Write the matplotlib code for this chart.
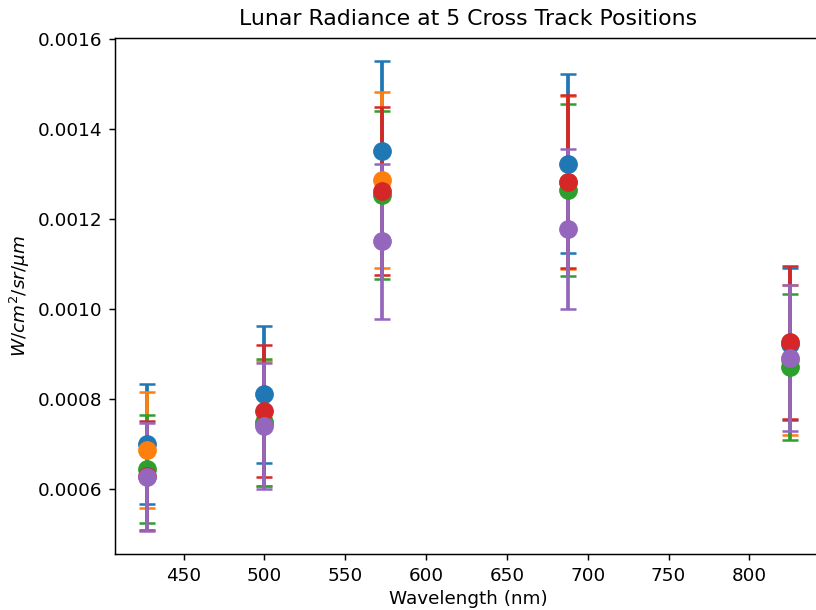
import matplotlib
matplotlib.use("Agg")
import matplotlib.pyplot as plt

wavelengths = [427.5, 500.0, 572.5, 687.5, 825.0]

pos1_mean = [0.000700, 0.000811, 0.001353, 0.001324, 0.000923]
pos2_mean = [0.000687, 0.000746, 0.001287, 0.001282, 0.000887]
pos3_mean = [0.000645, 0.000749, 0.001254, 0.001265, 0.000872]
pos4_mean = [0.000630, 0.000773, 0.001263, 0.001284, 0.000927]
pos5_mean = [0.000628, 0.000740, 0.001151, 0.001179, 0.000892]

pos1_err = [0.000134, 0.000152, 0.000198, 0.000198, 0.000169]
pos2_err = [0.000129, 0.000140, 0.000195, 0.000193, 0.000166]
pos3_err = [0.000121, 0.000141, 0.000187, 0.000191, 0.000163]
pos4_err = [0.000121, 0.000147, 0.000186, 0.000192, 0.000170]
pos5_err = [0.000120, 0.000140, 0.000172, 0.000178, 0.000162]

means = [pos1_mean, pos2_mean, pos3_mean, pos4_mean, pos5_mean]
errs = [pos1_err, pos2_err, pos3_err, pos4_err, pos5_err]

S = 1.32
plt.rcParams['font.family'] = ['DejaVu Sans']
fig = plt.figure(figsize=(8.16, 6.10), dpi=100)
ax = fig.add_axes([115/816, 56/610, (822-115)/816, (554-38)/610])

for m, e in zip(means, errs):
    ax.errorbar(wavelengths, m, yerr=e, fmt='o', markersize=12.5,
                elinewidth=2.7, capsize=5.6, capthick=1.8)

ax.set_title("Lunar Radiance at 5 Cross Track Positions", fontsize=12*S, pad=7*S)
ax.set_xlabel("Wavelength (nm)", fontsize=10*S, labelpad=3*S)
ax.set_ylabel(r"$W/cm^2/sr/\mu m$", fontsize=10*S, labelpad=3*S)
ax.tick_params(labelsize=10*S, length=3.5*S, width=0.8*S, pad=3.5*S)
for sp in ax.spines.values():
    sp.set_linewidth(0.8*S)

fig.savefig("out.png", dpi=100)
